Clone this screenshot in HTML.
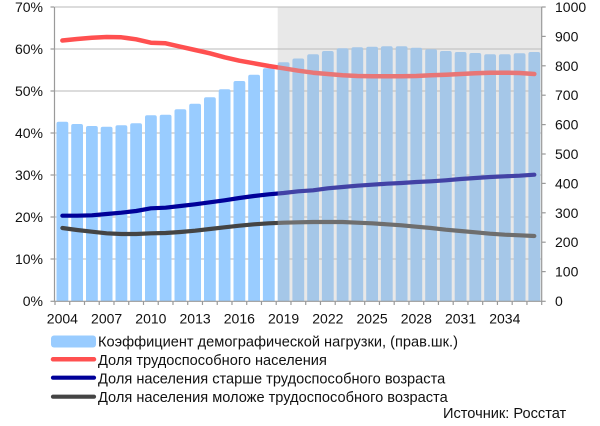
<!DOCTYPE html>
<html><head><meta charset="utf-8"><style>
html,body{margin:0;padding:0;background:#fff;}
svg{display:block;}
text{font-family:"Liberation Sans","DejaVu Sans",sans-serif;fill:#111;}
</style></head><body>
<svg width="600" height="426" viewBox="0 0 600 426" xmlns="http://www.w3.org/2000/svg">
<defs><clipPath id="pc"><rect x="55" y="0" width="487" height="301"/></clipPath></defs>
<!-- gridlines -->
<g stroke="#c8c8c8" stroke-width="1.2">
<line x1="55" y1="7" x2="542" y2="7"/>
<line x1="55" y1="49" x2="542" y2="49"/>
<line x1="55" y1="91" x2="542" y2="91"/>
<line x1="55" y1="133" x2="542" y2="133"/>
<line x1="55" y1="175" x2="542" y2="175"/>
<line x1="55" y1="217" x2="542" y2="217"/>
<line x1="55" y1="259" x2="542" y2="259"/>
</g>
<!-- bars -->
<g fill="#99ccff" clip-path="url(#pc)">
<rect x="56.5" y="121.7" width="11.8" height="185" rx="2"/>
<rect x="71.2" y="124" width="11.8" height="185" rx="2"/>
<rect x="86" y="126" width="11.8" height="185" rx="2"/>
<rect x="100.7" y="126.7" width="11.8" height="185" rx="2"/>
<rect x="115.5" y="125.3" width="11.8" height="185" rx="2"/>
<rect x="130.2" y="123.3" width="11.8" height="185" rx="2"/>
<rect x="145" y="115.3" width="11.8" height="195" rx="2"/>
<rect x="159.7" y="114.7" width="11.8" height="195" rx="2"/>
<rect x="174.5" y="109.3" width="11.8" height="195" rx="2"/>
<rect x="189.2" y="103.7" width="11.8" height="205" rx="2"/>
<rect x="204" y="97.3" width="11.8" height="210" rx="2"/>
<rect x="218.7" y="89.3" width="11.8" height="220" rx="2"/>
<rect x="233.5" y="81" width="11.8" height="225" rx="2"/>
<rect x="248.2" y="74.7" width="11.8" height="235" rx="2"/>
<rect x="262.9" y="68.3" width="11.8" height="240" rx="2"/>
<rect x="277.7" y="62.3" width="11.8" height="245" rx="2"/>
<rect x="292.4" y="58.5" width="11.8" height="250" rx="2"/>
<rect x="307.2" y="54.3" width="11.8" height="250" rx="2"/>
<rect x="321.9" y="51" width="11.8" height="255" rx="2"/>
<rect x="336.7" y="48.3" width="11.8" height="255" rx="2"/>
<rect x="351.4" y="47.3" width="11.8" height="260" rx="2"/>
<rect x="366.2" y="46.7" width="11.8" height="260" rx="2"/>
<rect x="380.9" y="46.3" width="11.8" height="260" rx="2"/>
<rect x="395.7" y="46.3" width="11.8" height="260" rx="2"/>
<rect x="410.4" y="47.7" width="11.8" height="260" rx="2"/>
<rect x="425.2" y="49.3" width="11.8" height="260" rx="2"/>
<rect x="439.9" y="51" width="11.8" height="255" rx="2"/>
<rect x="454.7" y="52" width="11.8" height="255" rx="2"/>
<rect x="469.4" y="53" width="11.8" height="255" rx="2"/>
<rect x="484.2" y="54.3" width="11.8" height="250" rx="2"/>
<rect x="498.9" y="54.3" width="11.8" height="250" rx="2"/>
<rect x="513.7" y="53.3" width="11.8" height="250" rx="2"/>
<rect x="528.4" y="52" width="11.8" height="255" rx="2"/>
</g>
<!-- lines -->
<g fill="none" stroke-linejoin="round" stroke-linecap="round">
<polyline stroke="#ff5050" stroke-width="4.5" points="62.37,40.5 77.12,39 91.87,37.7 106.62,37 121.36,37.3 136.11,39.3 150.86,42.7 165.61,43.3 180.35,46.7 195.1,50 209.85,53.3 224.6,57.3 239.35,60.7 254.09,63.3 268.84,66 283.59,68.3 298.34,70.7 313.09,72.7 327.83,74 342.58,75.3 357.33,76 372.08,76.3 386.83,76.3 401.57,76.3 416.32,76 431.07,75.3 445.82,74.7 460.57,74 475.31,73.3 490.06,72.7 504.81,72.7 519.56,73 534.31,74"/>
<polyline stroke="#000099" stroke-width="4.2" points="62.37,215.7 77.12,215.7 91.87,215.3 106.62,214 121.36,212.7 136.11,211 150.86,208.3 165.61,207.7 180.35,206 195.1,204.3 209.85,202.3 224.6,200.3 239.35,198 254.09,196 268.84,194.3 283.59,193 298.34,191.3 313.09,190.3 327.83,188.3 342.58,187 357.33,185.7 372.08,184.7 386.83,183.7 401.57,183 416.32,182 431.07,181.3 445.82,180.3 460.57,179 475.31,178 490.06,177 504.81,176.3 519.56,175.7 534.31,174.7"/>
<polyline stroke="#444444" stroke-width="4.2" points="62.37,228 77.12,230 91.87,231.7 106.62,233.3 121.36,234 136.11,234 150.86,233.3 165.61,233 180.35,232 195.1,230.7 209.85,229 224.6,227.3 239.35,225.7 254.09,224.3 268.84,223.3 283.59,222.7 298.34,222.3 313.09,222 327.83,222 342.58,222 357.33,222.7 372.08,223.3 386.83,224.3 401.57,225.3 416.32,226.7 431.07,228 445.82,229.7 460.57,231 475.31,232.3 490.06,233.7 504.81,234.7 519.56,235.3 534.31,236"/>
</g>
<!-- forecast shading overlay -->
<rect x="277.7" y="7" width="264" height="294" fill="rgb(190,190,190)" fill-opacity="0.35"/>
<!-- axes -->
<g stroke="#9a9a9a" stroke-width="1.2">
<line x1="54.5" y1="7" x2="54.5" y2="301.5"/>
<line x1="541.7" y1="7" x2="541.7" y2="301.5"/>
<line x1="54.5" y1="301.3" x2="541.7" y2="301.3"/>
<line x1="50.5" y1="7" x2="54.5" y2="7"/>
<line x1="50.5" y1="49" x2="54.5" y2="49"/>
<line x1="50.5" y1="91" x2="54.5" y2="91"/>
<line x1="50.5" y1="133" x2="54.5" y2="133"/>
<line x1="50.5" y1="175" x2="54.5" y2="175"/>
<line x1="50.5" y1="217" x2="54.5" y2="217"/>
<line x1="50.5" y1="259" x2="54.5" y2="259"/>
<line x1="50.5" y1="301.3" x2="54.5" y2="301.3"/>
<line x1="541.7" y1="7" x2="545.7" y2="7"/>
<line x1="541.7" y1="36.4" x2="545.7" y2="36.4"/>
<line x1="541.7" y1="65.8" x2="545.7" y2="65.8"/>
<line x1="541.7" y1="95.2" x2="545.7" y2="95.2"/>
<line x1="541.7" y1="124.6" x2="545.7" y2="124.6"/>
<line x1="541.7" y1="154" x2="545.7" y2="154"/>
<line x1="541.7" y1="183.4" x2="545.7" y2="183.4"/>
<line x1="541.7" y1="212.8" x2="545.7" y2="212.8"/>
<line x1="541.7" y1="242.2" x2="545.7" y2="242.2"/>
<line x1="541.7" y1="271.6" x2="545.7" y2="271.6"/>
<line x1="541.7" y1="301.3" x2="545.7" y2="301.3"/>
</g>
<!-- x ticks -->
<g stroke="#9a9a9a" stroke-width="1.2">
<line x1="55" y1="301" x2="55" y2="305"/><line x1="69.75" y1="301" x2="69.75" y2="305"/><line x1="84.5" y1="301" x2="84.5" y2="305"/><line x1="99.24" y1="301" x2="99.24" y2="305"/><line x1="113.99" y1="301" x2="113.99" y2="305"/><line x1="128.74" y1="301" x2="128.74" y2="305"/><line x1="143.49" y1="301" x2="143.49" y2="305"/><line x1="158.24" y1="301" x2="158.24" y2="305"/><line x1="172.98" y1="301" x2="172.98" y2="305"/><line x1="187.73" y1="301" x2="187.73" y2="305"/><line x1="202.48" y1="301" x2="202.48" y2="305"/><line x1="217.23" y1="301" x2="217.23" y2="305"/><line x1="231.98" y1="301" x2="231.98" y2="305"/><line x1="246.72" y1="301" x2="246.72" y2="305"/><line x1="261.47" y1="301" x2="261.47" y2="305"/><line x1="276.22" y1="301" x2="276.22" y2="305"/><line x1="290.97" y1="301" x2="290.97" y2="305"/><line x1="305.72" y1="301" x2="305.72" y2="305"/><line x1="320.46" y1="301" x2="320.46" y2="305"/><line x1="335.21" y1="301" x2="335.21" y2="305"/><line x1="349.96" y1="301" x2="349.96" y2="305"/><line x1="364.71" y1="301" x2="364.71" y2="305"/><line x1="379.46" y1="301" x2="379.46" y2="305"/><line x1="394.2" y1="301" x2="394.2" y2="305"/><line x1="408.95" y1="301" x2="408.95" y2="305"/><line x1="423.7" y1="301" x2="423.7" y2="305"/><line x1="438.45" y1="301" x2="438.45" y2="305"/><line x1="453.2" y1="301" x2="453.2" y2="305"/><line x1="467.94" y1="301" x2="467.94" y2="305"/><line x1="482.69" y1="301" x2="482.69" y2="305"/><line x1="497.44" y1="301" x2="497.44" y2="305"/><line x1="512.19" y1="301" x2="512.19" y2="305"/><line x1="526.94" y1="301" x2="526.94" y2="305"/><line x1="541.7" y1="301" x2="541.7" y2="305"/>
</g>
<!-- left labels -->
<g font-size="14" text-anchor="end">
<text x="43" y="12">70%</text>
<text x="43" y="54">60%</text>
<text x="43" y="96">50%</text>
<text x="43" y="138">40%</text>
<text x="43" y="180">30%</text>
<text x="43" y="222">20%</text>
<text x="43" y="264">10%</text>
<text x="43" y="306">0%</text>
</g>
<!-- right labels -->
<g font-size="14" text-anchor="start">
<text x="555" y="12">1000</text>
<text x="555" y="41.4">900</text>
<text x="555" y="70.8">800</text>
<text x="555" y="100.2">700</text>
<text x="555" y="129.6">600</text>
<text x="555" y="159">500</text>
<text x="555" y="188.4">400</text>
<text x="555" y="217.8">300</text>
<text x="555" y="247.2">200</text>
<text x="555" y="276.6">100</text>
<text x="555" y="306">0</text>
</g>
<!-- x labels -->
<g font-size="14" text-anchor="middle">
<text x="62.37" y="323.5">2004</text>
<text x="106.62" y="323.5">2007</text>
<text x="150.86" y="323.5">2010</text>
<text x="195.1" y="323.5">2013</text>
<text x="239.35" y="323.5">2016</text>
<text x="283.59" y="323.5">2019</text>
<text x="327.83" y="323.5">2022</text>
<text x="372.08" y="323.5">2025</text>
<text x="416.32" y="323.5">2028</text>
<text x="460.57" y="323.5">2031</text>
<text x="504.81" y="323.5">2034</text>
</g>
<!-- legend -->
<rect x="51" y="335.5" width="45" height="12" rx="3" fill="#99ccff"/>
<line x1="53" y1="359.3" x2="94" y2="359.3" stroke="#ff5050" stroke-width="4.5" stroke-linecap="round"/>
<line x1="53" y1="377.7" x2="94" y2="377.7" stroke="#000099" stroke-width="4.2" stroke-linecap="round"/>
<line x1="53" y1="396.7" x2="94" y2="396.7" stroke="#444444" stroke-width="4.2" stroke-linecap="round"/>
<g font-size="14.6">
<text x="98" y="346.5">Коэффициент демографической нагрузки, (прав.шк.)</text>
<text x="98" y="365">Доля трудоспособного населения</text>
<text x="98" y="383.5">Доля населения старше трудоспособного возраста</text>
<text x="98" y="402">Доля населения моложе трудоспособного возраста</text>
<text x="443" y="418">Источник: Росстат</text>
</g>
</svg>
</body></html>
